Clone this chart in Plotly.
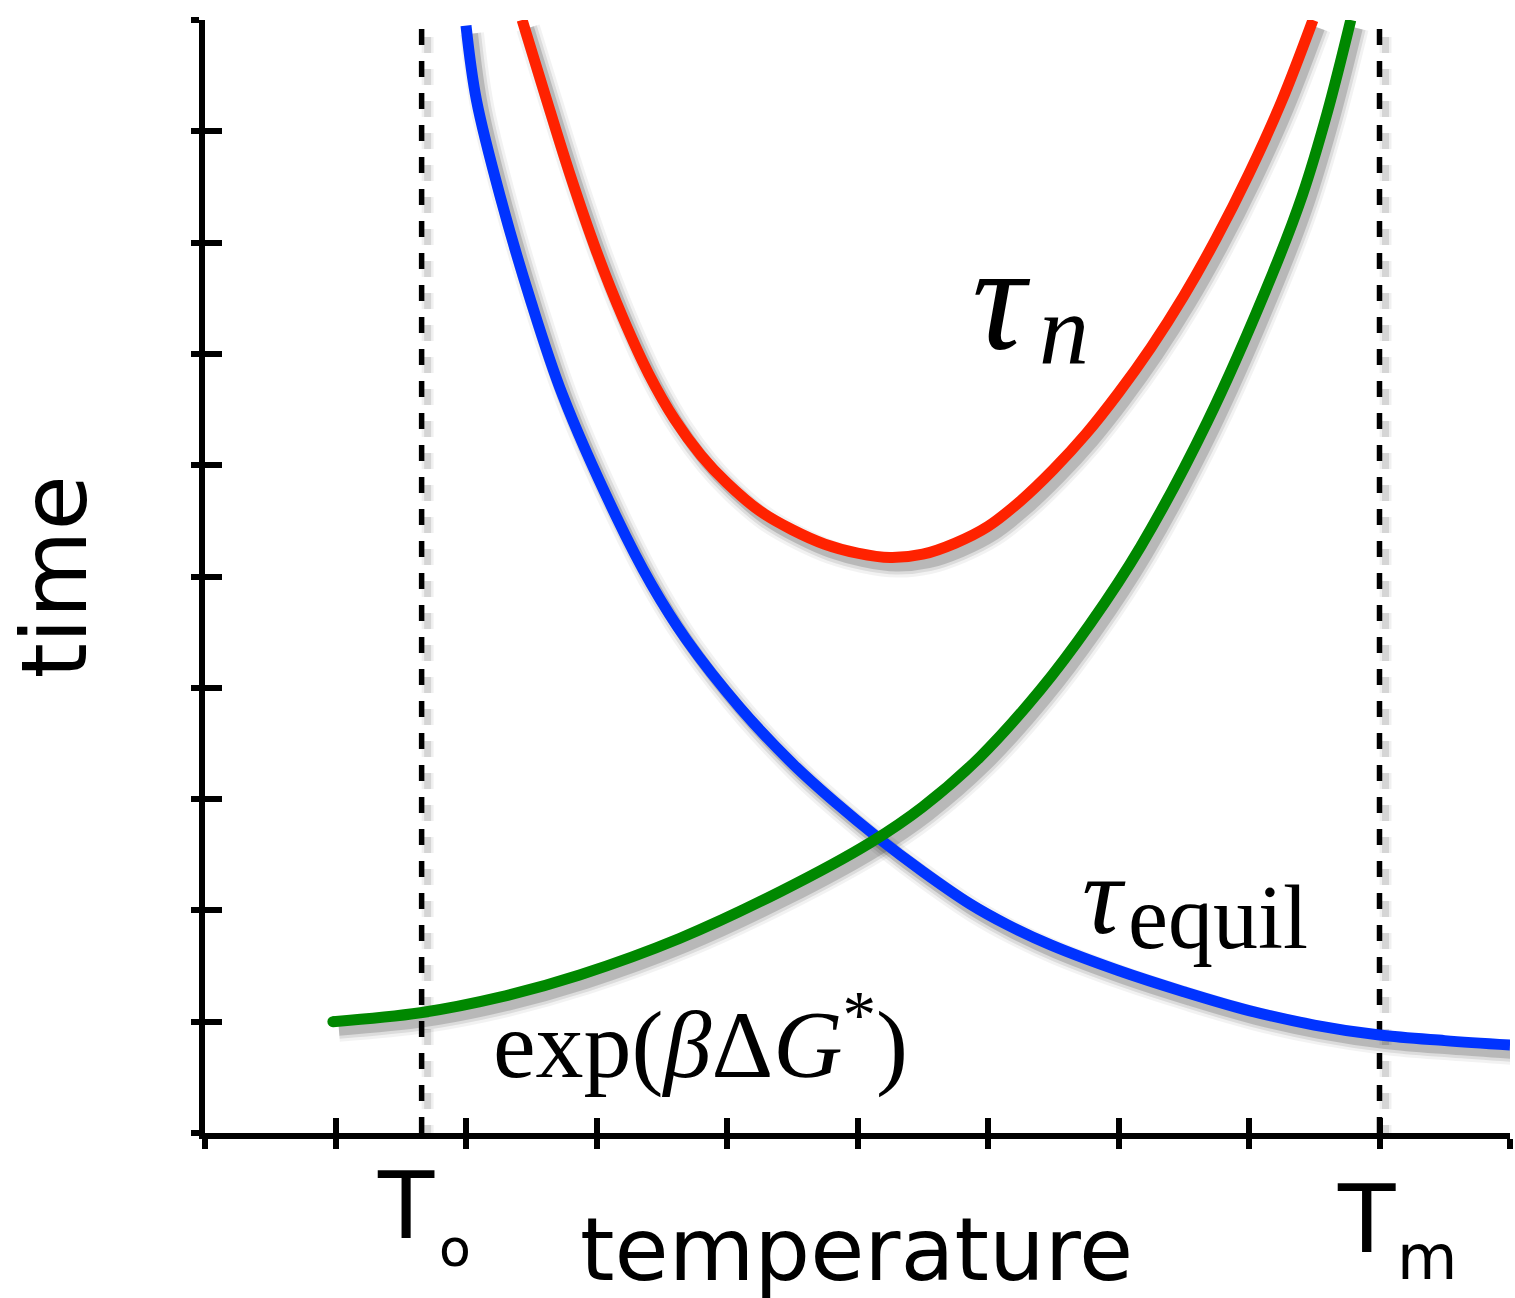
import plotly.graph_objects as go

# ---- data (axes units 0..10) ----
tick_vals = [0, 1, 2, 3, 4, 5, 6, 7, 8, 9, 10]

equil_x = [2.00, 2.08, 2.27, 2.49, 2.74, 3.15, 3.42, 3.69, 4.10, 4.51, 4.83, 5.15, 5.50, 5.86,
           6.15, 6.48, 7.00, 7.50, 8.00, 8.50, 9.00, 9.50, 10.0]
equil_y = [9.95, 9.28, 8.38, 7.50, 6.63, 5.54, 4.93, 4.43, 3.82, 3.31, 2.97, 2.66, 2.35, 2.06,
           1.87, 1.69, 1.46, 1.27, 1.10, 0.97, 0.88, 0.83, 0.79]

taun_x = [2.43, 2.60, 2.80, 3.00, 3.20, 3.40, 3.60, 3.80, 4.00, 4.25, 4.50, 4.75, 5.00, 5.25,
          5.50, 5.75, 6.00, 6.25, 6.50, 6.75, 7.00, 7.25, 7.50, 7.75, 8.00, 8.25, 8.49]
taun_y = [10.0, 9.35, 8.60, 7.92, 7.33, 6.82, 6.41, 6.09, 5.84, 5.59, 5.42, 5.29, 5.21, 5.17,
          5.20, 5.30, 5.45, 5.68, 5.96, 6.28, 6.65, 7.06, 7.52, 8.04, 8.62, 9.27, 10.0]

expg_x = [0.98, 1.65, 2.26, 2.87, 3.64, 4.41, 5.10, 5.50, 5.94, 6.40, 6.78, 7.17, 7.68, 8.18,
          8.41, 8.60, 8.78]
expg_y = [1.00, 1.08, 1.22, 1.42, 1.75, 2.17, 2.61, 2.93, 3.38, 3.98, 4.57, 5.27, 6.39, 7.72,
          8.43, 9.17, 10.0]

t_lines = [1.66, 9.0]          # T_o and T_m
y_span = [0, 10]

BLUE = "#0033ff"
RED = "#ff2200"
GREEN = "#008800"

series = [(equil_x, equil_y, BLUE), (taun_x, taun_y, RED), (expg_x, expg_y, GREEN)]

fig = go.Figure()

# ---- soft shadows on the shifted (hidden) main axes ----
for xs, ys, _ in series:
    for w, a in [(24, 0.05), (18, 0.09), (12, 0.16)]:
        fig.add_trace(go.Scatter(x=xs, y=ys, mode="lines",
                                 line=dict(color=f"rgba(0,0,0,{a})", width=w, shape="spline", smoothing=1.0),
                                 hoverinfo="skip", showlegend=False, xaxis="x", yaxis="y"))
for tx in t_lines:
    for w, a in [(12, 0.06), (7, 0.11)]:
        fig.add_trace(go.Scatter(x=[tx, tx], y=y_span, mode="lines",
                                 line=dict(color=f"rgba(0,0,0,{a})", width=w, dash="16px,16px"),
                                 hoverinfo="skip", showlegend=False, xaxis="x", yaxis="y"))

# ---- real marks on the visible axes ----
for tx in t_lines:
    fig.add_trace(go.Scatter(x=[tx, tx], y=y_span, mode="lines",
                             line=dict(color="black", width=5.5, dash="16px,16px"),
                             hoverinfo="skip", showlegend=False, xaxis="x2", yaxis="y2"))
for xs, ys, c in series:
    fig.add_trace(go.Scatter(x=xs, y=ys, mode="lines",
                             line=dict(color=c, width=11, shape="spline", smoothing=1.0),
                             hoverinfo="skip", showlegend=False, xaxis="x2", yaxis="y2"))
# round cap at the open left end of the green curve
fig.add_trace(go.Scatter(x=[expg_x[0]], y=[expg_y[0]], mode="markers", marker=dict(color=GREEN, size=11),
                         hoverinfo="skip", showlegend=False, xaxis="x2", yaxis="y2", cliponaxis=False))
# dummy trace for the inside-tick axes
fig.add_trace(go.Scatter(x=[0], y=[0], mode="markers", marker=dict(opacity=0), hoverinfo="skip",
                         showlegend=False, xaxis="x3", yaxis="y3"))

dx = 6 / 130.5
dy = 8 / 111.3
hidden = dict(visible=False, showgrid=False, zeroline=False)
fig.update_layout(
    width=1515, height=1298,
    margin=dict(l=205, r=5, t=20, b=165),
    paper_bgcolor="white", plot_bgcolor="white",
    xaxis=dict(range=[0 - dx, 10 - dx], **hidden),
    yaxis=dict(range=[0 + dy, 10 + dy], **hidden),
    xaxis2=dict(range=[0, 10], overlaying="x", anchor="y2", showgrid=False, zeroline=False,
                showline=True, linecolor="black", linewidth=6,
                tickmode="array", tickvals=tick_vals, ticks="outside", ticklen=10, tickwidth=6,
                tickcolor="black", showticklabels=False),
    yaxis2=dict(range=[0, 10], overlaying="y", anchor="x2", showgrid=False, zeroline=False,
                showline=True, linecolor="black", linewidth=6,
                tickmode="array", tickvals=tick_vals, ticks="outside", ticklen=8, tickwidth=6,
                tickcolor="black", showticklabels=False),
    xaxis3=dict(range=[0, 10], overlaying="x", anchor="y3", showgrid=False, zeroline=False,
                showline=False, tickmode="array", tickvals=tick_vals, ticks="inside", ticklen=15,
                tickwidth=6, tickcolor="black", showticklabels=False),
    yaxis3=dict(range=[0, 10], overlaying="y", anchor="x3", showgrid=False, zeroline=False,
                showline=False, tickmode="array", tickvals=tick_vals, ticks="inside", ticklen=17,
                tickwidth=6, tickcolor="black", showticklabels=False),
)

SANS = "DejaVu Sans"
SERIF = "Liberation Serif"

def ann(text, x, y, size, family, angle=0, xref="x2", yref="y2"):
    fig.add_annotation(text=text, x=x, y=y, xref=xref, yref=yref, showarrow=False,
                       xanchor="center", yanchor="middle", textangle=angle,
                       font=dict(family=family, size=size, color="black"))

# axis titles and T labels (paper coordinates, outside the plot area)
ann("temperature", 0.4996, -0.1045, 88, SANS, xref="paper", yref="paper")
ann("time", -0.115, 0.5, 90, SANS, angle=-90, xref="paper", yref="paper")
ann("T", 0.154, -0.0656, 92, SANS, xref="paper", yref="paper")
ann("o", 0.1916, -0.1030, 52, SANS, xref="paper", yref="paper")
ann("T", 0.8904, -0.0773, 94, SANS, xref="paper", yref="paper")
ann("m", 0.9364, -0.1123, 62, SANS, xref="paper", yref="paper")

# curve labels
ann("<i>τ</i>", 6.10, 7.50, 150, SERIF)
ann("<i>n</i>", 6.58, 7.22, 100, SERIF)
ann("<i>τ</i>", 6.89, 2.14, 112, SERIF)
ann("equil", 7.76, 1.94, 90, SERIF)
ann("exp(<i>β</i>Δ<i>G</i><sup>*</sup>)", 3.80, 0.86, 96, SERIF)

fig.write_html("out.html")
